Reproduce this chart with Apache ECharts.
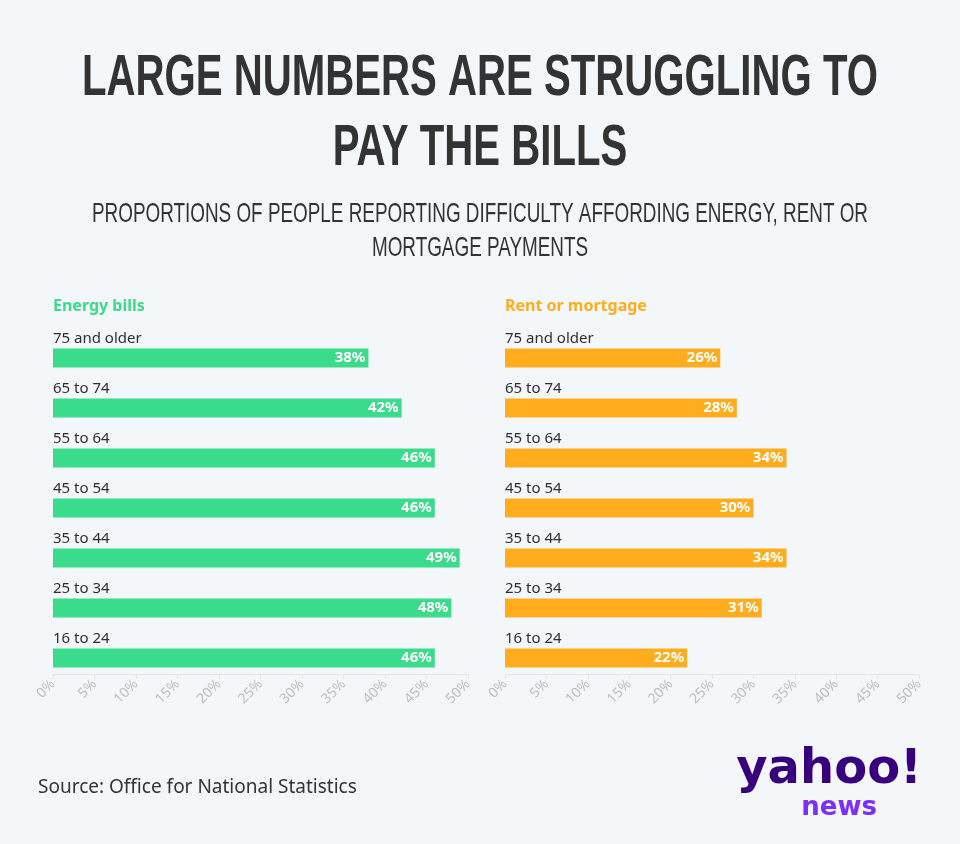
<!DOCTYPE html>
<html><head><meta charset="utf-8">
<script src="https://cdn.jsdelivr.net/npm/echarts@6/dist/echarts.min.js"></script>
<style>html,body{margin:0;padding:0;background:#f4f7fa}#c{width:960px;height:844px}</style>
</head><body><div id="c"></div>
<script>
const categories = ["75 and older","65 to 74","55 to 64","45 to 54","35 to 44","25 to 34","16 to 24"];
const energyValues = [38,42,46,46,49,48,46];
const rentValues = [26,28,34,30,34,31,22];
const tickValues = [0,5,10,15,20,25,30,35,40,45,50];
const titleLines = ["LARGE NUMBERS ARE STRUGGLING TO","PAY THE BILLS"];
const subtitleLines = ["PROPORTIONS OF PEOPLE REPORTING DIFFICULTY AFFORDING ENERGY, RENT OR","MORTGAGE PAYMENTS"];
const panelTitles = ["Energy bills","Rent or mortgage"];
const source = "Source: Office for National Statistics";

const GREEN = "#3adb8a", ORANGE = "#ffad1f", TEXT = "#2e2e2e";

const cv = document.createElement('canvas').getContext('2d');
function fitScale(text, font, target){ cv.font = font; return target / cv.measureText(text).width; }

const titleFont = 'bold 58px "Liberation Sans"';
const tScale = fitScale(titleLines[0], titleFont, 796);
const subFont = '28px "Liberation Sans"';
const sScale = fitScale(subtitleLines[0], subFont, 776);

const chart = echarts.init(document.getElementById('c'), null, {renderer:'canvas'});

function xAxisCfg(gi){
  return {
    type:'value', gridIndex:gi, min:tickValues[0], max:tickValues[tickValues.length-1], interval:5,
    offset:-9,
    axisLine:{show:true, lineStyle:{color:'#e4e6e9', width:1}},
    axisTick:{show:true, length:5, lineStyle:{color:'#e4e6e9'}},
    splitLine:{show:false},
    axisLabel:{rotate:45, formatter:'{value}%', color:'#bdbdbd', fontSize:14, fontFamily:'Noto Sans', margin:8}
  };
}
function yAxisCfg(gi){
  return {
    type:'category', gridIndex:gi, data:categories, inverse:true,
    axisLine:{show:false}, axisTick:{show:false}, splitLine:{show:false},
    axisLabel:{show:false}
  };
}
function barSeries(gi, vals, color){
  return {
    type:'bar', xAxisIndex:gi, yAxisIndex:gi, data:vals, barWidth:19,
    itemStyle:{color:color}, z:3,
    label:{show:true, position:'insideRight', distance:3, formatter:'{c}%', color:'#fff',
      fontWeight:'bold', fontSize:15, fontFamily:'Noto Sans'}
  };
}
function catLabelSeries(gi){
  return {
    type:'scatter', xAxisIndex:gi, yAxisIndex:gi, symbolSize:0, silent:true, z:4,
    data:categories.map((c,i)=>[0,c]),
    label:{show:true, position:'right', distance:0, offset:[0,-19], opacity:1,
      formatter:p=>p.value[1], color:TEXT, fontSize:15, fontFamily:'Noto Sans'}
  };
}

const graphics = [];
titleLines.forEach((t,i)=>graphics.push({type:'text', x:480, y:79+70*i, scaleX:tScale,
  style:{text:t, font:titleFont, fill:'#333333', align:'center', verticalAlign:'middle'}}));
subtitleLines.forEach((t,i)=>graphics.push({type:'text', x:480, y:214+34*i, scaleX:sScale,
  style:{text:t, font:subFont, fill:'#333333', align:'center', verticalAlign:'middle'}}));
graphics.push({type:'text', x:53, y:306, style:{text:panelTitles[0], font:'bold 16px "Noto Sans"', fill:GREEN, verticalAlign:'middle'}});
graphics.push({type:'text', x:505, y:306, style:{text:panelTitles[1], font:'bold 16px "Noto Sans"', fill:ORANGE, verticalAlign:'middle'}});
graphics.push({type:'text', x:38, y:788, style:{text:source, font:'19px "Noto Sans"', fill:'#333333', verticalAlign:'middle'}});
graphics.push({type:'text', x:922, y:771, style:{text:'yahoo!', font:'bold 48px "DejaVu Sans"', fill:'#39007d', align:'right', verticalAlign:'middle'}});
graphics.push({type:'text', x:877, y:808, style:{text:'news', font:'bold 26px "DejaVu Sans"', fill:'#7d2eff', align:'right', verticalAlign:'middle'}});

chart.setOption({
  backgroundColor:'#f4f7fa',
  animation:false,
  grid:[
    {left:53, top:333, width:415, height:350},
    {left:505, top:333, width:414, height:350}
  ],
  xAxis:[xAxisCfg(0), xAxisCfg(1)],
  yAxis:[yAxisCfg(0), yAxisCfg(1)],
  series:[barSeries(0, energyValues, GREEN), barSeries(1, rentValues, ORANGE), catLabelSeries(0), catLabelSeries(1)],
  graphic:graphics
});
</script>
</body></html>
